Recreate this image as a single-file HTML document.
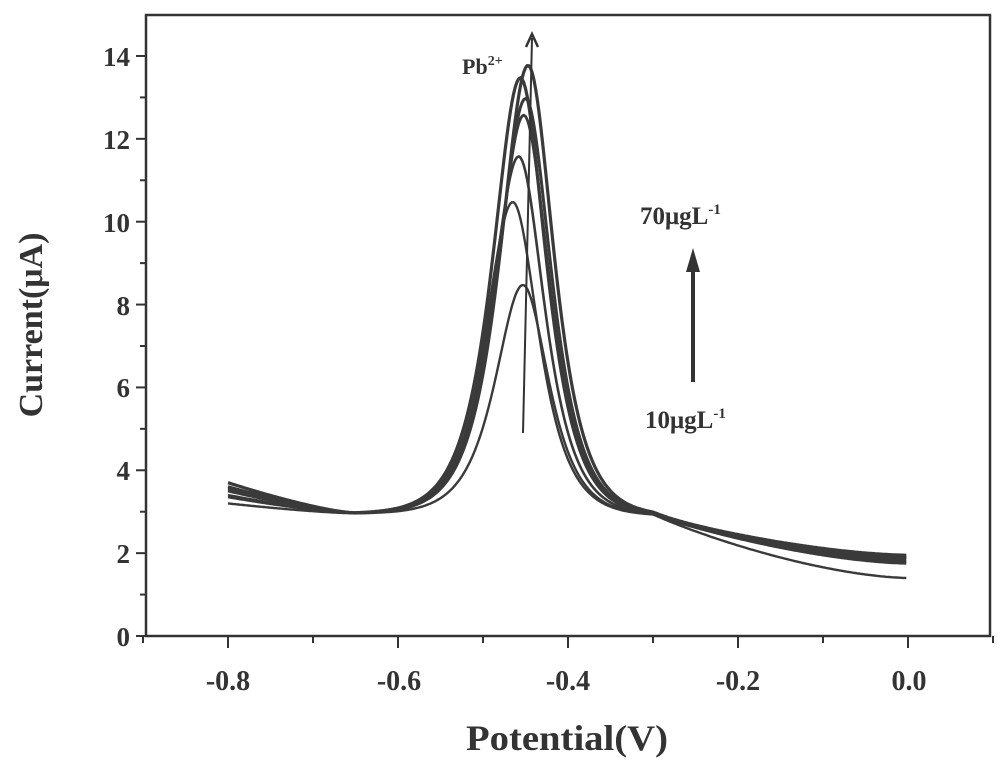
<!DOCTYPE html>
<html><head><meta charset="utf-8"><style>
body{margin:0;background:#fff}
svg{display:block}
text{font-family:"Liberation Serif",serif;font-weight:bold;fill:#333}
</style></head><body>
<svg id="s" width="1000" height="767" viewBox="0 0 1000 767">
<rect x="146" y="15" width="844" height="621" fill="none" stroke="#333" stroke-width="2.5"/>
<g id="ticks" stroke="#333" stroke-width="2"></g>
<g font-size="27" text-anchor="end">
<text x="130" y="646">0</text><text x="130" y="563">2</text><text x="130" y="480">4</text>
<text x="130" y="397">6</text><text x="130" y="315">8</text><text x="130" y="232">10</text>
<text x="130" y="149">12</text><text x="130" y="66">14</text>
</g>
<g font-size="28" text-anchor="middle">
<text x="228" y="690">-0.8</text><text x="399" y="690">-0.6</text><text x="568" y="690">-0.4</text>
<text x="738" y="690">-0.2</text><text x="909" y="690">0.0</text>
</g>
<text x="466" y="750" font-size="36" textLength="202" lengthAdjust="spacingAndGlyphs">Potential(V)</text>
<text transform="translate(42,325) rotate(-90)" font-size="34" text-anchor="middle">Current(μA)</text>
<g id="curves" fill="none" stroke="#3a3a3a"></g>
<line x1="523" y1="433" x2="532" y2="38" stroke="#333" stroke-width="2"/>
<path d="M526,47 L532,34 L538,47" fill="none" stroke="#333" stroke-width="2.5"/>
<text x="462" y="74" font-size="22">Pb<tspan font-size="14" dy="-9">2+</tspan></text>
<line x1="693" y1="382" x2="693" y2="270" stroke="#333" stroke-width="4"/>
<path d="M686,272 L693,248 L700,272 Z" fill="#333"/>
<text x="640" y="224" font-size="25">70μgL<tspan font-size="15" dy="-10">-1</tspan></text>
<text x="645" y="428" font-size="25">10μgL<tspan font-size="15" dy="-10">-1</tspan></text>
</svg>
<script>
var t=document.getElementById('ticks'),h='';
for(var i=0;i<=14;i++){var y=636-i*41.43,l=i%2?6:10;h+='<line x1="'+(146-l)+'" y1="'+y+'" x2="146" y2="'+y+'"/>';}
for(var v=-0.9;v<=0.101;v+=0.1){var x=908+v*850,maj=Math.abs(Math.round(v*10))%2==0;h+='<line x1="'+x+'" y1="636" x2="'+x+'" y2="'+(636+(maj?12:7))+'"/>';}
t.innerHTML=h;
var P=[[8.5,-0.453,3.2,1.4,2.4],[10.5,-0.465,3.35,1.75,2.4],[11.6,-0.458,3.4,1.8,2.6],[12.6,-0.452,3.5,1.85,2.8],[13.0,-0.45,3.55,1.9,3],[13.5,-0.456,3.6,1.9,3.2],[13.8,-0.447,3.7,1.95,3.2]];
var c='';
P.forEach(function(p,k){var d='';
for(var x=-0.8;x<=0.0005;x+=0.002){
var b;
if(x<-0.65){b=2.95+(p[2]-2.95)*Math.pow((-0.65-x)/0.15,1.3);}
else if(x<-0.3){b=2.95-0.05*(x+0.65)/0.35;}
else{var f=(x+0.3)/0.3;b=2.9-(2.9-p[3])*(1-Math.pow(1-f,1.6));}
var w=x<p[1]?0.029:0.027;
var u=(x-p[1])/w;
var pk=(p[0]-2.95)*2/(Math.exp(u)+Math.exp(-u));
var y=b+pk;
d+=(d?'L':'M')+(908+x*850).toFixed(1)+','+(636-y*41.43).toFixed(1);}
c+='<path d="'+d+'" stroke-width="'+p[4]+'"/>';});
document.getElementById('curves').innerHTML=c;
</script>
</body></html>
